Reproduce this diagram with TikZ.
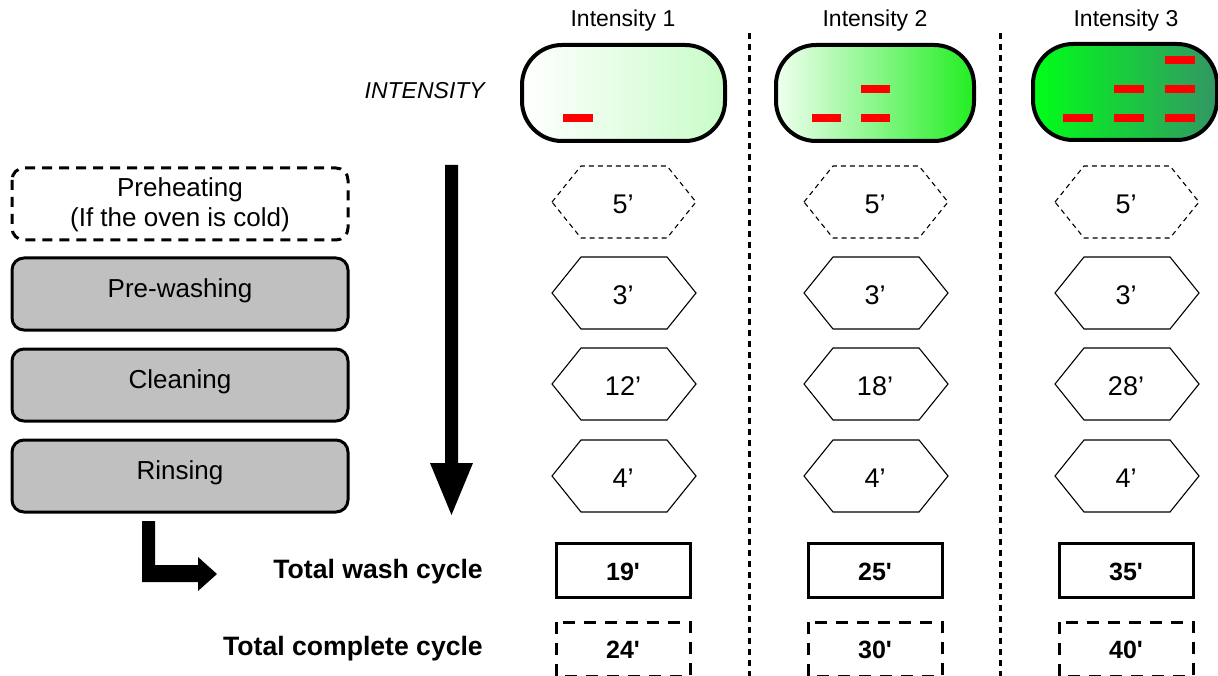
\documentclass[tikz,border=0pt]{standalone}
\usepackage{fontspec}
\setmainfont{Liberation Sans}
\begin{document}
\begin{tikzpicture}[x=1pt,y=-1pt,
  lbl/.style={inner sep=0pt, font=\fontsize{26}{30}\selectfont, align=center},
  hexlbl/.style={inner sep=0pt, font=\fontsize{27}{30}\selectfont},
  hdr/.style={inner sep=0pt, font=\fontsize{23}{26}\selectfont},
  boldlbl/.style={inner sep=0pt, font=\fontsize{26.6}{30}\selectfont\bfseries, anchor=east},
  numlbl/.style={inner sep=0pt, font=\fontsize{25}{28}\selectfont\bfseries},
  graybox/.style={draw, line width=3pt, fill={rgb,255:red,192;green,192;blue,192}, rounded corners=12pt},
  dashbox/.style={draw, line width=3pt, dash pattern=on 10pt off 7pt, rounded corners=12pt},
  hexsolid/.style={draw, line width=1.1pt},
  hexdash/.style={draw, line width=1.1pt, dash pattern=on 5pt off 4pt},
  totbox/.style={draw, line width=3pt},
  totdash/.style={draw, line width=3pt, dash pattern=on 12pt off 9pt},
  capsule/.style={draw, line width=4pt, rounded corners=40pt},
  redbar/.style={fill={rgb,255:red,255;green,0;blue,0}},
  sep/.style={line width=3pt, dash pattern=on 6pt off 5pt}
]
\useasboundingbox (0,0) rectangle (1218,676);

% separators
\draw[sep] (749,33) -- (749,676);
\draw[sep] (1000,33) -- (1000,676);

% headers
\node[hdr] (h1) at (623,21) {Intensity 1};
\node[hdr] (h2) at (875,21) {Intensity 2};
\node[hdr] (h3) at (1126,21) {Intensity 3};
\node[inner sep=0pt, font=\fontsize{23}{26}\selectfont\itshape, anchor=east] (int) at (485,91) {INTENSITY};

% capsules
\path[capsule, left color=white, right color={rgb,255:red,200;green,252;blue,200}] (522,45) rectangle (725,141);
\path[capsule, left color={rgb,255:red,240;green,255;blue,240}, right color={rgb,255:red,34;green,238;blue,34}] (776,45) rectangle (974,141);
\path[capsule, left color={rgb,255:red,0;green,255;blue,24}, right color={rgb,255:red,51;green,150;blue,100}] (1033,44) rectangle (1217,140);

% red bars
\fill[redbar] (563,114) rectangle (593,122);
\fill[redbar] (812,114) rectangle (841,122);
\fill[redbar] (861,114) rectangle (890,122);
\fill[redbar] (861,85) rectangle (890,93);
\fill[redbar] (1063,114) rectangle (1093,122);
\fill[redbar] (1114,114) rectangle (1144,122);
\fill[redbar] (1165,114) rectangle (1195,122);
\fill[redbar] (1114,85) rectangle (1144,93);
\fill[redbar] (1165,85) rectangle (1195,93);
\fill[redbar] (1165,56) rectangle (1195,64);

% left boxes
\path[dashbox] (12,168) rectangle (348,240);
\node[lbl] (pre) at (180,205) {Preheating\\(If the oven is cold)};
\path[graybox] (12,258) rectangle (348,330);
\node[lbl] (pw) at (180,291) {Pre-washing};
\path[graybox] (12,349) rectangle (348,421);
\node[lbl] (cl) at (180,382) {Cleaning};
\path[graybox] (12,440) rectangle (348,512);
\node[lbl] (ri) at (180,473) {Rinsing};

% hexagons
\foreach \cx/\c in {623/1,875/2,1126/3}{
  \foreach \cy/\r/\st in {202/0/hexdash,293/1/hexsolid,384/2/hexsolid,476/3/hexsolid}{
    \path[\st] (\cx-71,\cy) -- (\cx-42,\cy-36) -- (\cx+44,\cy-36) -- (\cx+73,\cy) -- (\cx+44,\cy+36) -- (\cx-42,\cy+36) -- cycle;
  }
}
\node[hexlbl] (a0) at (623,204) {5’};
\node[hexlbl] (b0) at (875,204) {5’};
\node[hexlbl] (c0) at (1126,204) {5’};
\node[hexlbl] (a1) at (623,295) {3’};
\node[hexlbl] (b1) at (875,295) {3’};
\node[hexlbl] (c1) at (1126,295) {3’};
\node[hexlbl] (a2) at (623,386) {12’};
\node[hexlbl] (b2) at (875,386) {18’};
\node[hexlbl] (c2) at (1126,386) {28’};
\node[hexlbl] (a3) at (623,478) {4’};
\node[hexlbl] (b3) at (875,478) {4’};
\node[hexlbl] (c3) at (1126,478) {4’};

% totals
\node[boldlbl] (twc) at (483,572) {Total wash cycle};
\node[boldlbl] (tcc) at (483,649) {Total complete cycle};
\foreach \cx/\w/\t/\n in {623/19/24/a,875/25/30/b,1126/35/40/c}{
  \path[totbox] (\cx-67,543) rectangle (\cx+67,597);
  \node[numlbl] (\n w) at (\cx,572) {\w\textquotesingle};
  \path[totdash] (\cx-67,622) rectangle (\cx+67,676);
  \node[numlbl] (\n c) at (\cx,650) {\t\textquotesingle};
}

% big down arrow
\fill (445,165) -- (458,165) -- (458,463) -- (473,463) -- (451.5,515) -- (430,463) -- (445,463) -- cycle;

% L arrow
\fill (142,521) -- (155,521) -- (155,565) -- (198,565) -- (198,557) -- (217,574) -- (198,591) -- (198,582) -- (142,582) -- cycle;
\end{tikzpicture}
\end{document}
